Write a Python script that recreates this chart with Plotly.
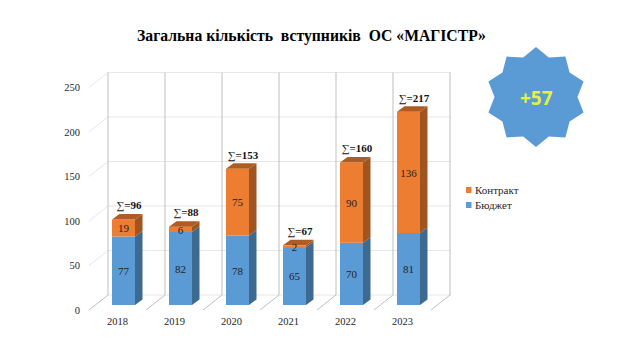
import math
import plotly.graph_objects as go

years = ["2018", "2019", "2020", "2021", "2022", "2023"]
budget = [77, 82, 78, 65, 70, 81]
contract = [19, 6, 75, 2, 90, 136]
y_ticks = [0, 50, 100, 150, 200, 250]
title_text = "Загальна кількість\u00a0 вступників\u00a0 ОС «МАГІСТР»"
badge_text = "+57"

# layout constants (pixels)
W, H = 640, 360
L, R, T, B = 89, 451, 72, 310
PX_X = 57.0
PX_Y = 0.89
xr = [-0.5, -0.5 + (R - L) / PX_X]
yr = [0, (B - T) / PX_Y]
SERIF = "Liberation Serif"
BLUE, ORANGE = "#5B9BD5", "#ED7D31"
BLUE_S, ORANGE_S, ORANGE_T = "#3D6A91", "#A0541F", "#AE5C22"

def ux(px): return px / PX_X
def uy(px): return px / PX_Y

OFF_X, OFF_Y = ux(6), uy(5)          # bar front plane relative to floor front
BW = 23 / PX_X
DX, DY = ux(7.5), uy(5.5)            # bar depth
WX, WY = ux(19), uy(15)              # wall depth
LAB_DY = uy(-1.5)                    # optical centring of the value labels

fig = go.Figure()
xs = [i + OFF_X for i in range(len(years))]
fig.add_bar(x=xs, y=budget, base=[OFF_Y] * 6, width=BW, marker=dict(color=BLUE, line=dict(width=0)),
            name="Бюджет", showlegend=False)
fig.add_bar(x=xs, y=contract, base=[OFF_Y + b for b in budget], width=BW,
            marker=dict(color=ORANGE, line=dict(width=0)), name="Контракт", showlegend=False)

def poly(px, py, color):
    fig.add_scatter(x=px, y=py, mode="lines", fill="toself", fillcolor=color,
                    line=dict(width=0, color=color), hoverinfo="skip", showlegend=False)

for x, b, c in zip(xs, budget, contract):
    xr_ = x + BW / 2
    xl_ = x - BW / 2
    y0 = OFF_Y
    y1 = y0 + b
    y2 = y1 + c
    poly([xr_, xr_ + DX, xr_ + DX, xr_, xr_], [y0, y0 + DY, y1 + DY, y1, y0], BLUE_S)
    poly([xr_, xr_ + DX, xr_ + DX, xr_, xr_], [y1, y1 + DY, y2 + DY, y2, y1], ORANGE_S)
    poly([xl_, xr_, xr_ + DX, xl_ + DX, xl_], [y2, y2, y2 + DY, y2 + DY, y2], ORANGE_T)

lab_font = dict(family=SERIF, size=11, color="#1F1F1F")
fig.add_scatter(x=xs, y=[OFF_Y + b / 2 + LAB_DY for b in budget], mode="text", text=[str(v) for v in budget],
                textfont=lab_font, textposition="middle center", showlegend=False, hoverinfo="skip")
fig.add_scatter(x=xs, y=[OFF_Y + b + c / 2 + LAB_DY for b, c in zip(budget, contract)], mode="text",
                text=[str(v) for v in contract], textfont=lab_font, textposition="middle center",
                showlegend=False, hoverinfo="skip")
totals = [b + c for b, c in zip(budget, contract)]
fig.add_scatter(x=[x + ux(5.5) for x in xs], y=[OFF_Y + t + uy(13) for t in totals], mode="text",
                text=[f"∑<b>={t}</b>" for t in totals],
                textfont=dict(family=SERIF, size=11, color="#111111"),
                textposition="middle center", showlegend=False, hoverinfo="skip", cliponaxis=False)

shapes = []
def seg(x0, y0, x1, y1, color, w=1):
    shapes.append(dict(type="line", xref="x", yref="y", x0=x0, y0=y0, x1=x1, y1=y1,
                       line=dict(color=color, width=w), layer="below"))

GRID = "#E6E6E6"
x_back0 = xr[0] + WX
for v in y_ticks:
    seg(x_back0, v + WY, xr[1], v + WY, GRID)
    if v > 0:
        seg(xr[0], v, x_back0, v + WY, GRID)
for i in range(len(years) + 1):
    xb = xr[0] + i + WX
    seg(xb, WY, xb, y_ticks[-1] + WY, "#BFBFBF")
    seg(xr[0] + i, 0, xb, WY, "#BFBFBF")

# badge
def star(cx, cy, ro, ri, n=10):
    pts = []
    for k in range(2 * n):
        a = math.pi / 2 + k * math.pi / n
        r = ro if k % 2 == 0 else ri
        pts.append((cx + r * math.cos(a), cy - r * math.sin(a)))
    return "M" + "L".join(f"{(px - L) / (R - L):.4f},{1 - (py - T) / (B - T):.4f}" for px, py in pts) + "Z"

shapes.append(dict(type="path", xref="paper", yref="paper", path=star(536, 97, 50, 41.5),
                   fillcolor=BLUE, line=dict(width=0), layer="above"))

def pxx(px): return (px - L) / (R - L)
def pxy(py): return 1 - (py - T) / (B - T)

# legend
anns = []
for name, col, py in [("Контракт", ORANGE, 190), ("Бюджет", BLUE, 205)]:
    shapes.append(dict(type="rect", xref="paper", yref="paper", x0=pxx(466), x1=pxx(471.5),
                       y0=pxy(py + 3), y1=pxy(py - 3), fillcolor=col, line=dict(width=0)))
    anns.append(dict(xref="paper", yref="paper", x=pxx(473), y=pxy(py), text=name, showarrow=False,
                     xanchor="left", yanchor="middle", font=dict(family=SERIF, size=11, color="#262626")))
anns.append(dict(xref="paper", yref="paper", x=pxx(536), y=pxy(98), text=f"<b>{badge_text}</b>", showarrow=False,
                 xanchor="center", yanchor="middle", font=dict(family="Open Sans", size=19, color="#E4F23C")))

fig.update_layout(
    width=W, height=H, autosize=False,
    paper_bgcolor="white", plot_bgcolor="rgba(0,0,0,0)",
    margin=dict(l=L, r=W - R, t=T, b=H - B, pad=0, autoexpand=False),
    barmode="overlay", showlegend=False, shapes=shapes, annotations=anns,
    title=dict(text=f"<b>{title_text}</b>", xref="paper", yref="container", x=pxx(311.5), xanchor="center",
               y=1 - 35.5 / H, yanchor="middle", font=dict(family=SERIF, size=15.7, color="black")),
    xaxis=dict(range=xr, tickvals=list(range(6)), ticktext=years, showgrid=False, zeroline=False, showline=False,
               ticks="outside", ticklen=1, tickcolor="rgba(0,0,0,0)",
               tickfont=dict(family=SERIF, size=10.5, color="#262626")),
    yaxis=dict(range=yr, tickvals=y_ticks, showgrid=False, zeroline=False, showline=False,
               ticks="outside", ticklen=6, tickcolor="rgba(0,0,0,0)",
               tickfont=dict(family=SERIF, size=10.5, color="#262626")),
)
fig.write_html("out.html", config=dict(displayModeBar=False), post_script="document.body.style.margin='0';")
